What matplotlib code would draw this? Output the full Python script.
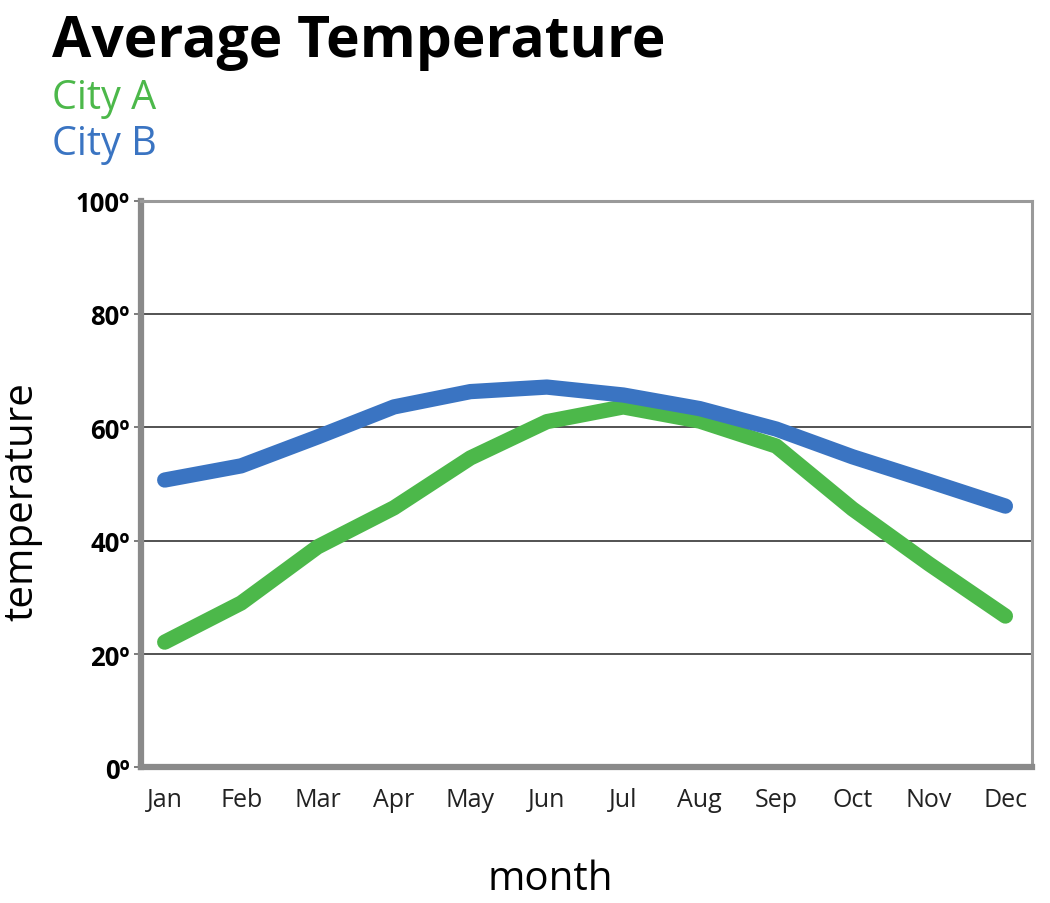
import matplotlib
matplotlib.use("Agg")
import matplotlib.pyplot as plt

months = ["Jan", "Feb", "Mar", "Apr", "May", "Jun", "Jul", "Aug", "Sep", "Oct", "Nov", "Dec"]
city_a = [22.1, 29.0, 38.9, 45.8, 54.6, 61.0, 63.6, 61.1, 56.7, 45.6, 35.9, 26.7]
city_b = [50.7, 53.2, 58.3, 63.6, 66.3, 67.1, 65.7, 63.3, 59.7, 54.8, 50.5, 46.1]
y_ticks = [0, 20, 40, 60, 80, 100]
y_labels = ["0º", "20º", "40º", "60º", "80º", "100º"]

green = "#4cb84a"
blue = "#3a74c2"
font = "Open Sans"

fig = plt.figure(figsize=(10.5, 9.04), dpi=100)
ax = fig.add_axes([0.134, 0.150, 0.849, 0.627])

x = list(range(len(months)))
ax.plot(x, city_a, color=green, lw=11, solid_capstyle="round", solid_joinstyle="round", zorder=3)
ax.plot(x, city_b, color=blue, lw=11, solid_capstyle="round", solid_joinstyle="round", zorder=4)

ax.set_xlim(-0.314, 11.35)
ax.set_ylim(0, 100)
ax.set_yticks(y_ticks)
ax.set_yticklabels(y_labels, fontsize=18.5, fontweight="bold", family=font)
ax.set_xticks(x)
ax.set_xticklabels(months, fontsize=18, family=font, color="#222222")
ax.tick_params(axis="x", length=0, pad=14)
ax.tick_params(axis="y", length=5, width=1.2, color="#666666", pad=3)

for v in y_ticks[1:-1]:
    ax.axhline(v, color="#444444", lw=1.3, zorder=1)

for side in ["left", "bottom"]:
    ax.spines[side].set_color("#8a8a8a")
    ax.spines[side].set_linewidth(4.5)
for side in ["right", "top"]:
    ax.spines[side].set_color("#9a9a9a")
    ax.spines[side].set_linewidth(2.2)

fig.text(0.524, 0.027, "month", fontsize=29, family=font, ha="center", va="center")
fig.text(0.021, 0.445, "temperature", fontsize=29, family=font, ha="center", va="center",
         rotation=90)

fig.text(0.050, 0.953, "Average Temperature", fontsize=41, fontweight="bold",
         family=font, color="black", va="center", ha="left")
fig.text(0.050, 0.891, "City A", fontsize=28.5, family=font, color=green, va="center", ha="left")
fig.text(0.050, 0.840, "City B", fontsize=28.5, family=font, color=blue, va="center", ha="left")

fig.savefig("out.png", dpi=100)
